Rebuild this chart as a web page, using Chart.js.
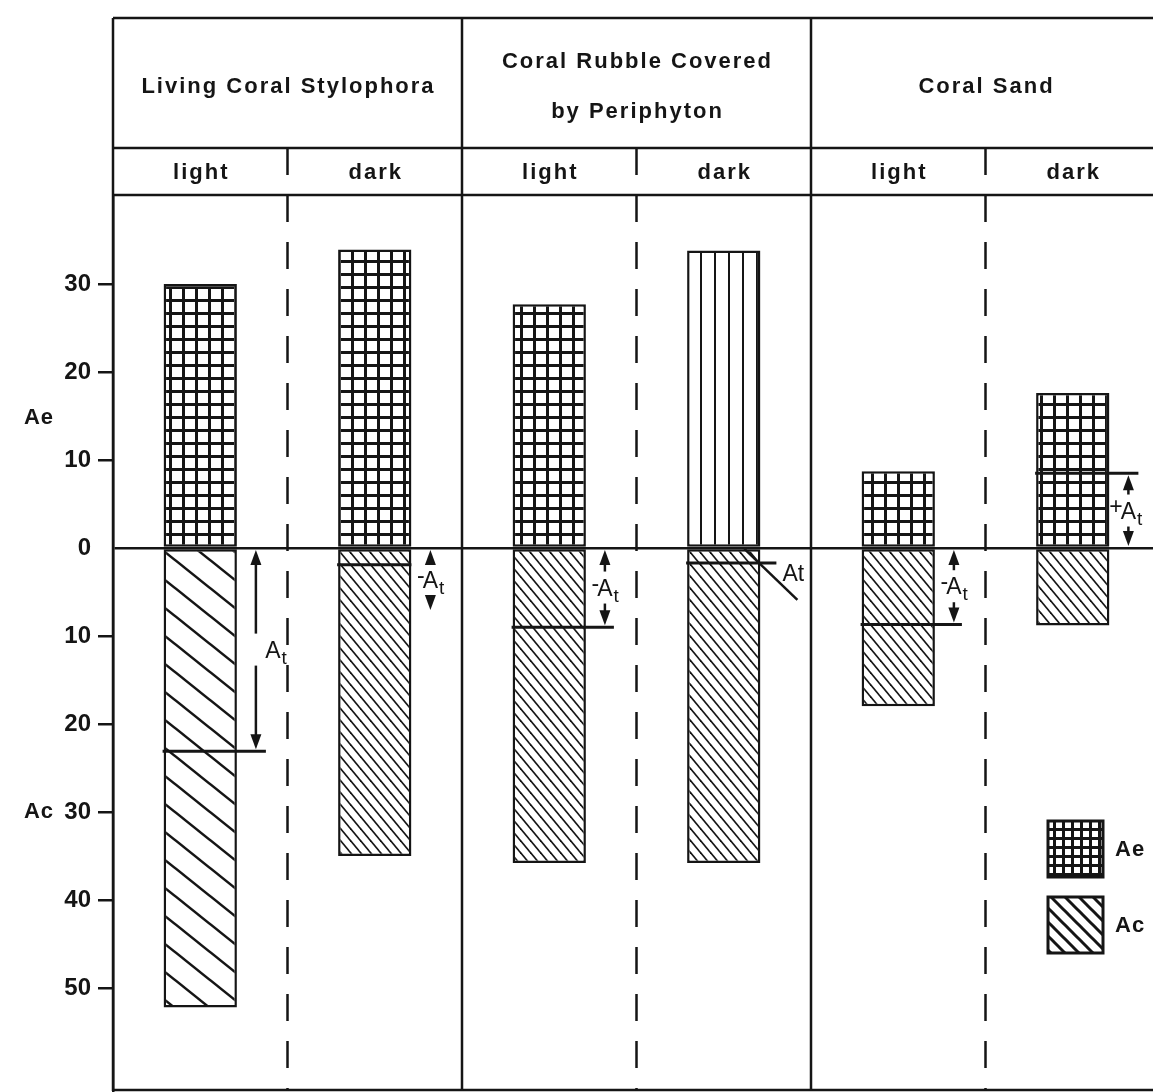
<!DOCTYPE html>
<html>
<head>
<meta charset="utf-8">
<script src="https://cdn.jsdelivr.net/npm/chart.js@4.4.1/dist/chart.umd.min.js"></script>
<style>
  html, body { margin: 0; padding: 0; overflow: hidden; background: #fff; }
  #wrap { width: 1165px; height: 1092px; }
</style>
</head>
<body>
<div id="wrap"><canvas id="coralChart"></canvas></div>
<script>
// sub-columns, two per substrate
const categories = ["light", "dark", "light", "dark", "light", "dark"];
const groupTitles = [["Living Coral Stylophora"], ["Coral Rubble Covered", "by Periphyton"], ["Coral Sand"]];
// Ae drawn upwards, Ac drawn downwards
const aeValues = [30, 33.9, 27.7, 33.8, 8.7, 17.6];
const acValues = [52.2, 35, 35.8, 35.8, 18, 8.8];
// level of the At line (below zero = negative)
const atLevels = [-23.1, -1.9, -9, -1.7, -8.7, 8.5];
const atLabels = ["At", "-At", "-At", "At", "-At", "+At"];
const yTicks = [-50, -40, -30, -20, -10, 0, 10, 20, 30];

const INK = "#151515";
const FONT = "'Liberation Sans', Arial, sans-serif";

// ---- fill patterns ----
function makeTile(w, h) {
  const c = document.createElement("canvas");
  c.width = w;
  c.height = h;
  const g = c.getContext("2d");
  g.fillStyle = "#fff";
  g.fillRect(0, 0, w, h);
  return { c, g };
}
function gridPattern(cell, lw) {
  const { c, g } = makeTile(cell, cell);
  g.fillStyle = INK;
  g.fillRect(0, 0, cell, lw);
  g.fillRect(0, 0, lw, cell);
  return g.createPattern(c, "repeat");
}
function vlinePattern(step, lw) {
  const { c, g } = makeTile(step, 4);
  g.fillStyle = INK;
  g.fillRect(0, 0, lw, 4);
  return g.createPattern(c, "repeat");
}
// "\" hatching: horizontal spacing w, vertical spacing h
function hatchPattern(w, h, lw) {
  const { c, g } = makeTile(w, h);
  g.strokeStyle = INK;
  g.lineWidth = lw;
  for (let k = -1; k <= 1; k++) {
    g.beginPath();
    g.moveTo(k * w - w, -h);
    g.lineTo(k * w + 2 * w, 2 * h);
    g.stroke();
  }
  return g.createPattern(c, "repeat");
}

const aeGrid = gridPattern(13, 3);
const aeStripes = vlinePattern(14, 2);
const acWide = hatchPattern(35, 28, 2.5);
const acDense = hatchPattern(10, 12, 1.7);
const aeFills = [aeGrid, aeGrid, aeGrid, aeStripes, aeGrid, aeGrid];
const acFills = [acWide, acDense, acDense, acDense, acDense, acDense];
const lineExt = [29, 0, 28, 16, 27, 29];
const atStyle = ["arrow", "arrow", "arrow", "leader", "arrow", "arrow"];

function seg(ctx, x1, y1, x2, y2) {
  ctx.beginPath();
  ctx.moveTo(x1, y1);
  ctx.lineTo(x2, y2);
  ctx.stroke();
}
function arrowHead(ctx, x, tipY, dir) {
  ctx.beginPath();
  ctx.moveTo(x, tipY);
  ctx.lineTo(x - 5.5, tipY - dir * 15);
  ctx.lineTo(x + 5.5, tipY - dir * 15);
  ctx.closePath();
  ctx.fill();
}
// "A" with a lowered "t", optional sign in front
function atText(ctx, cx, cy, txt, lowered) {
  const sign = txt.slice(0, txt.length - 2);
  ctx.font = "23px " + FONT;
  ctx.textBaseline = "alphabetic";
  const wA = ctx.measureText("A").width;
  const base = cy + 8;
  ctx.textAlign = "center";
  ctx.fillText("A", cx, base);
  if (sign) {
    ctx.textAlign = "right";
    ctx.fillText(sign, cx - wA / 2 + 2, base - 5);
  }
  ctx.font = "19px " + FONT;
  ctx.textAlign = "left";
  ctx.fillText("t", cx + wA / 2 + 1, base + (lowered ? 6 : 0));
}

const annotations = {
  id: "annotations",
  afterDatasetsDraw(chart) {
    const { ctx, scales: { y } } = chart;
    const y0 = y.getPixelForValue(0);
    ctx.save();
    ctx.strokeStyle = INK;
    ctx.fillStyle = INK;
    chart.getDatasetMeta(1).data.forEach((bar, i) => {
      const left = bar.x - bar.width / 2;
      const right = bar.x + bar.width / 2;
      const yAt = y.getPixelForValue(atLevels[i]);
      ctx.lineWidth = 3;
      seg(ctx, left - 1, yAt, right + lineExt[i], yAt);
      ctx.lineWidth = 2.5;
      if (atStyle[i] === "arrow") {
        const ax = right + 19;
        const top = Math.min(y0, yAt) + 2;
        let bot = Math.max(y0, yAt) - 2;
        if (bot - top < 60) bot = top + 60;
        const mid = (top + bot) / 2;
        if (mid - 16 > top + 12) seg(ctx, ax, top + 12, ax, mid - 16);
        if (bot - 12 > mid + 16) seg(ctx, ax, mid + 16, ax, bot - 12);
        arrowHead(ctx, ax, top, -1);
        arrowHead(ctx, ax, bot, 1);
        atText(ctx, bot - top > 150 ? ax + 17 : ax, mid, atLabels[i], true);
      } else {
        seg(ctx, right - 16, y0 + 1, right + 37, y0 + 52);
        ctx.font = "23px " + FONT;
        ctx.textAlign = "left";
        ctx.textBaseline = "alphabetic";
        ctx.fillText(atLabels[i], right + 22, yAt + 18);
      }
    });
    ctx.restore();
  }
};

const frame = {
  id: "frame",
  afterDraw(chart) {
    const { ctx, chartArea: a, scales: { x, y } } = chart;
    const half = (x.getPixelForValue(1) - x.getPixelForValue(0)) / 2;
    const topY = 18;
    const rowY = 148;
    ctx.save();
    ctx.strokeStyle = INK;
    ctx.fillStyle = INK;
    ctx.lineWidth = 2.5;
    [topY, rowY, a.top, a.bottom - 1].forEach((yy) => seg(ctx, a.left, yy, a.right, yy));
    for (let i = 0; i <= categories.length; i++) {
      const px = x.getPixelForValue(Math.min(i, categories.length - 1)) + (i < categories.length ? -half : half);
      if (i % 2 === 0) {
        ctx.setLineDash([]);
        seg(ctx, px, topY, px, a.bottom);
      } else {
        ctx.setLineDash([27, 20]);
        seg(ctx, px, rowY, px, a.bottom);
      }
    }
    ctx.setLineDash([]);

    // header texts
    ctx.textAlign = "center";
    ctx.textBaseline = "middle";
    ctx.font = "bold 22px " + FONT;
    ctx.letterSpacing = "2px";
    groupTitles.forEach((lines, g) => {
      const cx = (x.getPixelForValue(2 * g) + x.getPixelForValue(2 * g + 1)) / 2 + 1;
      const cy = (topY + rowY) / 2 + 4;
      lines.forEach((t, k) => {
        ctx.fillText(t, cx, cy + (k - (lines.length - 1) / 2) * 50);
      });
    });
    categories.forEach((c, i) => {
      ctx.fillText(c, x.getPixelForValue(i) + 1, (rowY + a.top) / 2 + 1);
    });

    // axis names
    ctx.letterSpacing = "1px";
    ctx.fillText("Ae", 39, y.getPixelForValue(14.8));
    ctx.fillText("Ac", 39, y.getPixelForValue(-30));

    // key
    const kx = a.right - 112;
    [["Ae", 821], ["Ac", 897]].forEach(([name, ky]) => {
      ctx.fillStyle = name === "Ae" ? gridPattern(9, 3) : hatchPattern(14, 14, 3);
      ctx.fillRect(kx, ky, 55, 56);
      ctx.lineWidth = 3;
      ctx.strokeRect(kx, ky, 55, 56);
      ctx.fillStyle = INK;
      ctx.textAlign = "left";
      ctx.fillText(name, kx + 67, ky + 29);
    });
    ctx.restore();
  }
};

new Chart(document.getElementById("coralChart"), {
  type: "bar",
  data: {
    labels: categories,
    datasets: [
      {
        label: "Ae",
        data: aeValues,
        backgroundColor: aeFills,
        borderColor: INK,
        borderWidth: 2.5,
        borderSkipped: false,
        barPercentage: 0.42,
        categoryPercentage: 1,
      },
      {
        label: "Ac",
        data: acValues.map((v) => -v),
        backgroundColor: acFills,
        borderColor: INK,
        borderWidth: 2.5,
        borderSkipped: false,
        barPercentage: 0.42,
        categoryPercentage: 1,
      },
    ],
  },
  options: {
    responsive: true,
    maintainAspectRatio: false,
    animation: false,
    layout: { padding: { top: 195, right: 5, bottom: 1, left: 0 } },
    scales: {
      x: { stacked: true, display: false },
      y: {
        stacked: true,
        min: -61.7,
        max: 40.1,
        afterBuildTicks: (s) => {
          s.ticks = yTicks.map((v) => ({ value: v }));
        },
        afterFit: (s) => {
          s.width = 113;
          // labels sit well inside the range, so no extra room is needed
          s.paddingTop = 0;
          s.paddingBottom = 0;
        },
        border: { display: true, color: INK, width: 2.5 },
        grid: {
          drawOnChartArea: true,
          color: (c) => (c.tick && c.tick.value === 0 ? INK : "rgba(0,0,0,0)"),
          lineWidth: 2.5,
          tickLength: 15,
          tickWidth: 2.5,
          tickColor: (c) => (c.tick && c.tick.value === 0 ? "rgba(0,0,0,0)" : INK),
        },
        ticks: {
          color: INK,
          padding: 7,
          font: { family: FONT, size: 24, weight: "bold" },
          callback: (v) => Math.abs(v),
        },
      },
    },
    plugins: {
      legend: { display: false },
      tooltip: { enabled: false },
    },
  },
  plugins: [annotations, frame],
});
</script>
</body>
</html>
